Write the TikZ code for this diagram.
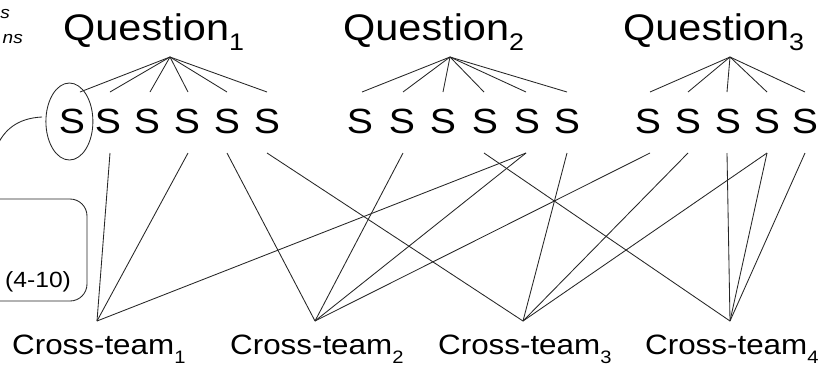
\documentclass[tikz,border=0pt]{standalone}
\usepackage{fontspec}
\setmainfont{Liberation Sans}[FakeStretch=1.12]
\usetikzlibrary{shapes.geometric}
\newcommand\qsub[1]{\raisebox{-10pt}{\fontsize{24}{24}\selectfont #1}}
\newcommand\csub[1]{\raisebox{-9pt}{\fontsize{18}{18}\selectfont #1}}
\begin{document}
\begin{tikzpicture}[x=1pt,y=-1pt,
  lnk/.style={draw=black!85, line width=0.85pt},
  qtext/.style={anchor=base west, inner sep=0pt, font=\fontsize{37}{37}\selectfont},
  stext/.style={anchor=base, inner sep=0pt, font=\fontsize{35}{35}\selectfont},
  cttext/.style={anchor=base west, inner sep=0pt, font=\fontsize{28}{28}\selectfont},
  small/.style={anchor=base east, inner sep=0pt, font=\fontsize{17}{17}\selectfont\itshape},
  note/.style={anchor=base west, inner sep=0pt, font=\fontsize{22}{22}\selectfont}]
\useasboundingbox (0,0) rectangle (821,368);
\clip (0,0) rectangle (821,368);
\fill[white] (0,0) rectangle (821,368);

% cropped texts at top left
\node[small] (t1) at (10,18) {s};
\node[small] (t2) at (23,43) {ns};

% questions
\node[qtext] (q1) at (63,40) {Question\qsub{1}};
\node[qtext] (q2) at (343,40) {Question\qsub{2}};
\node[qtext] (q3) at (623,40) {Question\qsub{3}};
\coordinate (q1a) at (170,57);
\coordinate (q2a) at (450,57);
\coordinate (q3a) at (730,57);

% S nodes and fans
\foreach \i/\x/\f in {1/72/80,2/108/110,3/147/150,4/187/188,5/227/227,6/267/267}{
  \node[stext] (q1s\i) at (\x,133) {S};
  \coordinate (q1t\i) at (\f,92);
  \coordinate (q1b\i) at (\f,153);
  \draw[lnk] (q1a) -- (q1t\i);
}
\foreach \i/\x/\f in {1/360/362,2/402/403,3/443/443,4/485/484,5/527/526,6/567/567}{
  \node[stext] (q2s\i) at (\x,133) {S};
  \coordinate (q2t\i) at (\f,92);
  \coordinate (q2b\i) at (\f,153);
  \draw[lnk] (q2a) -- (q2t\i);
}
\foreach \i/\x/\f in {1/648/650,2/688/688,3/728/727,4/767/767,5/805/805}{
  \node[stext] (q3s\i) at (\x,133) {S};
  \coordinate (q3t\i) at (\f,92);
  \coordinate (q3b\i) at (\f,153);
  \draw[lnk] (q3a) -- (q3t\i);
}

% circled S and its curve
\node[draw=black!85, line width=0.85pt, ellipse, minimum width=47pt, minimum height=77pt, inner sep=0pt] (circ) at (69.4,121.5) {};
\coordinate (cs) at (42,117);
\coordinate (ce) at (-3,146);
\draw[lnk] (cs) .. controls (22,118) and (6,126) .. (ce);

% rounded box (cropped)
\node[draw=black!85, line width=0.85pt, rounded corners=17pt, minimum width=127pt, minimum height=102pt, inner sep=0pt] (box) at (23.5,250) {};
\node[note] (range) at (5,287) {(4-10)};

% cross-teams
\coordinate (ct1a) at (97,321);
\coordinate (ct2a) at (315,321);
\coordinate (ct3a) at (523,321);
\coordinate (ct4a) at (730,321);
\node[cttext] (ct1) at (12,354) {Cross-team\csub{1}};
\node[cttext] (ct2) at (230,354) {Cross-team\csub{2}};
\node[cttext] (ct3) at (438,354) {Cross-team\csub{3}};
\node[cttext] (ct4) at (645,354) {Cross-team\csub{4}};

% links
\foreach \s in {q1b2,q1b4,q2b5}{\draw[lnk] (ct1a) -- (\s);}
\foreach \s in {q1b5,q2b2,q2b5,q3b1}{\draw[lnk] (ct2a) -- (\s);}
\foreach \s in {q1b6,q2b6,q3b2,q3b4}{\draw[lnk] (ct3a) -- (\s);}
\foreach \s in {q2b4,q3b3,q3b4,q3b5}{\draw[lnk] (ct4a) -- (\s);}
\end{tikzpicture}
\end{document}
